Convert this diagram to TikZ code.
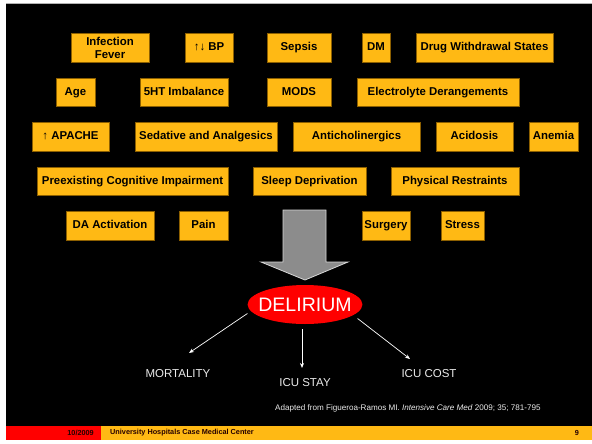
\documentclass[tikz,border=0pt]{standalone}
\usepackage{fontspec}
\setmainfont{Liberation Sans}
\usetikzlibrary{shapes.geometric,arrows.meta}
\definecolor{boxorange}{RGB}{255,185,20}
\definecolor{boxedge}{RGB}{140,95,0}
\definecolor{arrowgray}{RGB}{140,140,140}
\definecolor{arrowedge}{RGB}{215,215,215}
\definecolor{footred}{RGB}{255,0,0}
\definecolor{lighttext}{RGB}{235,235,235}
\begin{document}
\begin{tikzpicture}[x=1pt,y=-1pt,
  cause/.style={draw=boxedge,line width=0.8pt,fill=boxorange,inner sep=0pt,align=center,
    font=\bfseries\fontsize{11.4}{13}\selectfont,text=black,text height=0.9em,text depth=0.21em},
  outcome/.style={text=lighttext,font=\fontsize{11.5}{13}\selectfont,inner sep=0pt},
  conn/.style={draw=white,line width=0.7pt,-{Stealth[length=5pt,width=4pt]}},
  foot/.style={font=\bfseries\fontsize{7.3}{8}\selectfont,text=black!85!red,inner sep=0pt}]
\useasboundingbox (0,0) rectangle (592,444);
\fill[white] (0,0) rectangle (592,444);
\fill[black] (6,3) rectangle (592,426);
\draw[gray!60,line width=0.6pt] (6,3.3) -- (592,3.3);
% footer
\fill[footred] (6,426) rectangle (101,439.5);
\fill[boxorange] (101,426) rectangle (592,439.5);
\node[foot,anchor=east] (date) at (94,433) {10/2009};
\node[foot,anchor=west] (inst) at (110,433) {University Hospitals Case Medical Center};
\node[foot] (page) at (577,433) {9};
% row 1
\node[cause,minimum width=78pt,minimum height=29pt,text height=,text depth=] (inf) at (110,47.5) {Infection\\Fever};
\node[cause,minimum width=48pt,minimum height=29pt] (bp) at (209,47.5) {↑↓ BP};
\node[cause,minimum width=64pt,minimum height=29pt] (sepsis) at (299,47.5) {Sepsis};
\node[cause,minimum width=28pt,minimum height=29pt] (dm) at (376,47.5) {DM};
\node[cause,minimum width=137pt,minimum height=29pt] (drug) at (484.5,47.5) {Drug Withdrawal States};
% row 2
\node[cause,minimum width=39pt,minimum height=28pt] (age) at (75.5,92) {Age};
\node[cause,minimum width=88pt,minimum height=28pt] (ht) at (184,92) {5HT Imbalance};
\node[cause,minimum width=64pt,minimum height=28pt] (mods) at (299,92) {MODS};
\node[cause,minimum width=162pt,minimum height=28pt] (elec) at (438,92) {Electrolyte Derangements};
% row 3
\node[cause,minimum width=77pt,minimum height=29pt] (apache) at (70.5,136.5) {↑ APACHE};
\node[cause,minimum width=142pt,minimum height=29pt] (sed) at (206,136.5) {Sedative and Analgesics};
\node[cause,minimum width=127pt,minimum height=29pt] (anti) at (356.5,136.5) {Anticholinergics};
\node[cause,minimum width=77pt,minimum height=29pt] (acid) at (474.5,136.5) {Acidosis};
\node[cause,minimum width=49pt,minimum height=29pt] (anem) at (553.5,136.5) {Anemia};
% row 4
\node[cause,minimum width=191pt,minimum height=28pt] (pre) at (132.5,181) {Preexisting Cognitive Impairment};
\node[cause,minimum width=113pt,minimum height=28pt] (sleep) at (309.5,181) {Sleep Deprivation};
\node[cause,minimum width=128pt,minimum height=28pt] (phys) at (455,181) {Physical Restraints};
% row 5
\node[cause,minimum width=88pt,minimum height=29pt] (da) at (110,225.5) {DA Activation};
\node[cause,minimum width=49pt,minimum height=29pt] (pain) at (203.5,225.5) {Pain};
\node[cause,minimum width=48pt,minimum height=29pt] (surg) at (386,225.5) {Surgery};
\node[cause,minimum width=43pt,minimum height=29pt] (stress) at (462.5,225.5) {Stress};
% big arrow
\draw[fill=arrowgray,draw=arrowedge,line width=0.8pt,line join=miter]
  (283,210) -- (326,210) -- (326,262) -- (348,262) -- (305,280) -- (261,262) -- (283,262) -- cycle;
% delirium
\node[ellipse,fill=red,inner xsep=-6pt,inner ysep=0pt,minimum height=39pt,text=white,
  font=\fontsize{19.5}{21}\selectfont] (del) at (305,304.5) {DELIRIUM};
% outcomes
\node[outcome] (mort) at (178,374) {MORTALITY};
\node[outcome] (stay) at (305,383) {ICU STAY};
\node[outcome] (cost) at (429,374) {ICU COST};
\coordinate (mortEnd) at (189,353);
\coordinate (stayEnd) at (302,368);
\coordinate (costEnd) at (410,359);
\draw[conn] ([shift={(0,9)}]del.west) -- (mortEnd);
\draw[conn] ([shift={(-3,5)}]del.south) -- (stayEnd);
\draw[conn] ([shift={(-5,14)}]del.east) -- (costEnd);
% citation
\node[anchor=west,inner sep=0pt,text=lighttext,font=\fontsize{8.1}{9.5}\selectfont] (cite) at (275,408)
  {Adapted from Figueroa-Ramos MI. \textit{Intensive Care Med} 2009; 35; 781-795};
\end{tikzpicture}
\end{document}
